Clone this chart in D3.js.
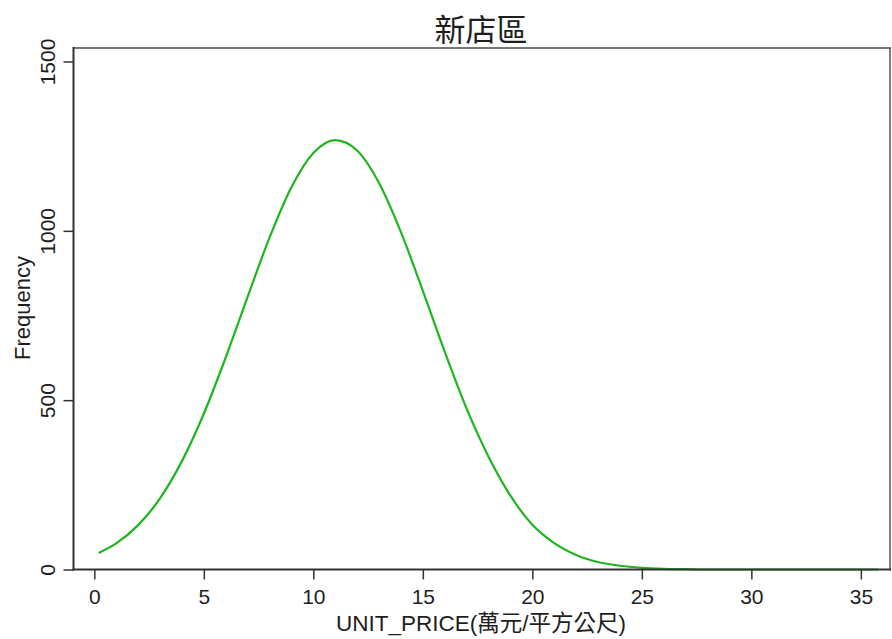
<!DOCTYPE html>
<html>
<head>
<meta charset="utf-8">
<script src="https://cdn.jsdelivr.net/npm/d3@7"></script>
<style>
  body { margin: 0; background: #fff; }
  text { font-family: "Liberation Sans", Arial, "Noto Sans CJK TC", sans-serif; fill: #1e1e1e; }
</style>
</head>
<body>
<div id="chart"></div>
<script>
var width = 892;
var height = 639;

// data
var priceX = [0.2, 1, 2, 3, 4, 5, 6, 7, 8, 9, 10, 11, 12, 13, 14, 15, 16, 17, 18,
              19, 20, 21, 22, 23, 24, 25, 26, 27, 28, 30, 32, 34, 35.8];
var freqY  = [49, 77, 131, 210, 320, 460, 626, 805, 980, 1129, 1230, 1268, 1237, 1141, 996, 823, 643, 475, 333,
              218, 132, 78, 43, 22, 11, 5, 2, 1, 0, 0, 0, 0, 0];
var xTicks = [0, 5, 10, 15, 20, 25, 30, 35];
var yTicks = [0, 500, 1000, 1500];

var titleText = "新店區";
var xTitle = "UNIT_PRICE(萬元/平方公尺)";
var yTitle = "Frequency";

//plot box (window.top is reserved, so plotTop)
var plotLeft = 73.5, plotRight = 890, plotTop = 48, plotBottom = 569.5;

var x = d3.scaleLinear().domain([-0.95, 36.33]).range([plotLeft, plotRight]);
var y = d3.scaleLinear().domain([0, 1500]).range([plotBottom, 61.5]);

var svg = d3.select("#chart")
  .append("svg")
  .attr("width", width)
  .attr("height", height);

//outer box, top and right are lighter
svg.append("line")
  .attr("x1", plotLeft).attr("x2", plotRight + 1).attr("y1", plotTop).attr("y2", plotTop)
  .style("stroke", "#777").style("stroke-width", 2);
svg.append("line")
  .attr("x1", plotRight).attr("x2", plotRight).attr("y1", plotTop).attr("y2", plotBottom)
  .style("stroke", "#555").style("stroke-width", 1.5);

var line = d3.line()
  .x(function(d, i) { return x(priceX[i]); })
  .y(function(d) { return y(d); })
  .curve(d3.curveMonotoneX);

svg.append("path")
  .attr("d", line(freqY))
  .style("fill", "none")
  .style("stroke", "#1fb51f")
  .style("stroke-width", 2.2);

//axes
var xAxis = d3.axisBottom(x).tickValues(xTicks).tickSize(10).tickPadding(10).tickSizeOuter(0);
var gx = svg.append("g")
  .attr("transform", "translate(0," + plotBottom + ")")
  .call(xAxis);
gx.select(".domain").attr("d", "M" + (plotLeft - 1) + ",0H" + (plotRight + 1));

var yAxis = d3.axisLeft(y).tickValues(yTicks).tickSize(10).tickSizeOuter(0).tickFormat(d3.format("d"));
var gy = svg.append("g")
  .attr("transform", "translate(" + plotLeft + ",0)")
  .call(yAxis);
gy.select(".domain").attr("d", "M0," + (plotTop - 1) + "V" + (plotBottom + 1));

svg.selectAll(".domain").style("stroke", "#333").style("stroke-width", 2);
svg.selectAll(".tick line").style("stroke", "#333").style("stroke-width", 1.5);
svg.selectAll(".tick text")
  .style("font-size", "21px")
  .style("fill", "#1e1e1e")
  .style("font-family", "'Liberation Sans', Arial, sans-serif");

gy.selectAll(".tick text")
  .attr("x", null).attr("dy", null)
  .attr("text-anchor", "middle")
  .attr("transform", "translate(-18.5,0) rotate(-90)");

//titles
svg.append("text")
  .attr("x", 481).attr("y", 41)
  .attr("text-anchor", "middle")
  .style("font-size", "31px")
  .text(titleText);

svg.append("text")
  .attr("x", 481).attr("y", 631)
  .attr("text-anchor", "middle")
  .style("font-size", "22.5px")
  .text(xTitle);

svg.append("text")
  .attr("transform", "translate(30,308) rotate(-90)")
  .attr("text-anchor", "middle")
  .style("font-size", "22px")
  .text(yTitle);
</script>
</body>
</html>
